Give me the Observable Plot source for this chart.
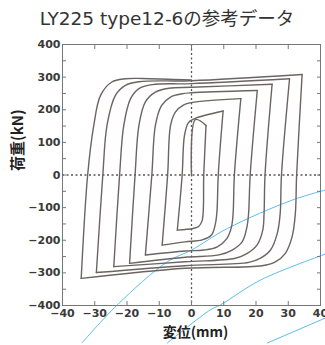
<!DOCTYPE html>
<html><head><meta charset="utf-8">
<script src="https://cdn.jsdelivr.net/npm/d3@7"></script>
<script src="https://cdn.jsdelivr.net/npm/@observablehq/plot@0.6"></script>
<style>
body{margin:0;background:#fff;width:325px;height:345px;overflow:hidden}
#title{height:34px;box-sizing:border-box;padding-top:8px;padding-left:9px;text-align:center;font:18.5px "DejaVu Sans","Noto Sans CJK JP",sans-serif;color:#333;line-height:22px;white-space:nowrap}
#chart svg{display:block}
</style></head><body>
<div id="title">LY225 type12-6の参考データ</div>
<div id="chart"></div>
<script>
// Axis ticks
const xTicks = [-40, -30, -20, -10, 0, 10, 20, 30, 40];
const yTicks = [-400, -300, -200, -100, 0, 100, 200, 300, 400];
const yMinor = [-400, -350, -300, -250, -200, -150, -100, -50, 0, 50, 100, 150, 200, 250, 300, 350, 400];

// Hysteresis path, branch by branch: [displacement mm, load kN]
const virgin = [[0,0],[1.2,170],[4.5,152]];
const lower1 = [[4.5,152],[3.8,0],[3.3,-140],[2.2,-158],[0.5,-164],[-4.4,-169]];
const upper1 = [[-4.4,-169],[-2.9,0],[-2.2,120],[-1.0,160],[0.8,172],[9.8,196]];
const lower2 = [[9.8,196],[8.3,0],[7.9,-110],[7.4,-150],[6.2,-184],[3.3,-199],[-2,-205],[-9.1,-215]];
const upper2 = [[-9.1,-215],[-7.4,0],[-6.5,152],[-5.0,193],[-2.4,215],[0,222],[15.3,234]];
const lower3 = [[15.3,234],[13.3,0],[12.9,-118],[12.4,-159],[11.0,-194],[8.0,-220],[3.8,-230],[-2,-233],[-14.3,-245]];
const upper3 = [[-14.3,-245],[-12.3,0],[-11.2,152],[-9.3,213],[-6.5,239],[-2.9,249],[0,252],[20.4,259]];
const lower4 = [[20.4,259],[18.2,0],[17.7,-118],[17.2,-159],[15.7,-205],[12.6,-230],[8.5,-245],[-2,-252],[-19.2,-271]];
const upper4 = [[-19.2,-271],[-17.5,0],[-16.3,152],[-14.3,224],[-11.2,254],[-7.0,266],[0,269],[25.0,278]];
const lower5 = [[25.0,278],[22.8,0],[22.5,-118],[22.1,-169],[20.3,-215],[17.3,-240],[13.6,-255],[-2,-266],[-24.1,-281]];
const upper5 = [[-24.1,-281],[-22.3,0],[-21.0,152],[-18.9,234],[-16.3,265],[-12.2,277],[0,280],[30.4,295]];
const lower6 = [[30.4,295],[27.9,0],[27.5,-118],[26.6,-179],[24.5,-230],[21.4,-255],[17.8,-268],[-2,-278],[-29.5,-299]];
const upper6 = [[-29.5,-299],[-27.5,0],[-26.2,152],[-23.6,244],[-20.5,275],[-16.3,286],[0,289],[34.3,308]];
const lower7 = [[34.3,308],[32.6,0],[32.2,-118],[31.2,-189],[29.1,-240],[26.0,-266],[21.9,-278],[-2,-286],[-34.2,-317]];
const upper7 = [[-34.2,-317],[-32.2,0],[-30.3,152],[-28.2,244],[-24.7,285],[-20.5,295],[-15.3,296],[0,291]];

// Light blue background arcs crossing the figure
const arc1 = [[-33.9,-514],[-23.0,-398],[-7.5,-266],[0,-230],[11.1,-164],[31.2,-77],[41.6,-46]];
const arc2 = [[-7.5,-515],[5.9,-413],[9.0,-398],[21.4,-322],[41.6,-242]];
const arc3 = [[23.5,-515],[41.6,-438]];

const branchList = [virgin, lower1, upper1, lower2, upper2, lower3, upper3, lower4, upper4, lower5, upper5, lower6, upper6, lower7, upper7];
const arcList = [arc1, arc2, arc3];
const toRows = list => list.flatMap((pts, i) => pts.map(([x, y]) => ({x, y, id: i})));
const loopRows = toRows(branchList);
const arcRows = toRows(arcList);

const tickStroke = "#777";
const tickOnly = {tickSize: -4, label: null, stroke: tickStroke, fill: "none"};
const labelFont = {fontFamily: "DejaVu Sans", fontWeight: "bold", fontSize: 11, fill: "#3a3a3a", stroke: "none"};

const chart = Plot.plot({
  width: 325, height: 311,
  marginLeft: 62, marginRight: 5, marginTop: 10, marginBottom: 40,
  x: {domain: [-40, 40]},
  y: {domain: [-400, 400]},
  style: {background: "transparent", fontFamily: "DejaVu Sans"},
  marks: [
    Plot.line(arcRows, {x: "x", y: "y", z: "id", curve: "catmull-rom", stroke: "#4ab6ea", strokeWidth: 0.9}),
    Plot.ruleX([0], {stroke: "#555", strokeWidth: 1.3, strokeDasharray: "2,2.5"}),
    Plot.ruleY([0], {stroke: "#555", strokeWidth: 1.3, strokeDasharray: "2,2.5"}),
    Plot.line(loopRows, {x: "x", y: "y", z: "id", curve: "catmull-rom", stroke: "#6b6462", strokeWidth: 1.4}),
    Plot.frame({stroke: "#777"}),
    Plot.axisX(xTicks, {anchor: "bottom", ...tickOnly}),
    Plot.axisX(xTicks, {anchor: "top", ...tickOnly}),
    Plot.axisY(yMinor, {anchor: "left", ...tickOnly}),
    Plot.axisY(yMinor, {anchor: "right", ...tickOnly}),
    Plot.axisX(xTicks, {anchor: "bottom", tickSize: 0, tickPadding: 4, label: null, ...labelFont}),
    Plot.axisY(yTicks, {anchor: "left", tickSize: 0, tickPadding: 2, label: null, ...labelFont}),
    Plot.text(["変位(mm)"], {frameAnchor: "bottom", dy: 31, dx: 4, fontFamily: "Noto Sans CJK JP", fontWeight: "bold", fontSize: 14, fill: "#222"}),
    Plot.text(["荷重(kN)"], {frameAnchor: "left", dx: -44, dy: -4, rotate: -90, fontFamily: "Noto Sans CJK JP", fontWeight: "bold", fontSize: 15, fill: "#222"})
  ]
});
document.getElementById("chart").appendChild(chart);
</script>
</body></html>
